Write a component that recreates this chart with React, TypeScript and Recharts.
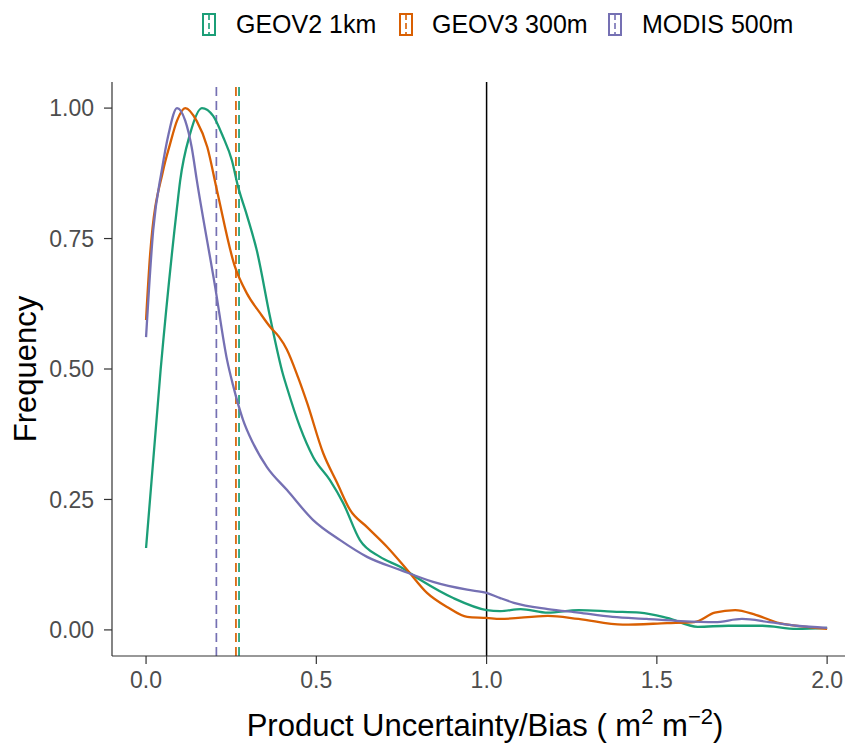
import { LineChart, Line, XAxis, YAxis, ReferenceLine } from 'recharts';

// Density curves (x = uncertainty/bias, y = scaled frequency)
const geov2 = [
  { x: 0, y: 0.157 }, { x: 0.043, y: 0.5 }, { x: 0.091, y: 0.81 }, { x: 0.1, y: 0.86 },
  { x: 0.129, y: 0.95 }, { x: 0.164, y: 1.0 }, { x: 0.197, y: 0.985 }, { x: 0.226, y: 0.945 },
  { x: 0.252, y: 0.9 }, { x: 0.27, y: 0.85 }, { x: 0.296, y: 0.795 }, { x: 0.326, y: 0.725 },
  { x: 0.364, y: 0.6 }, { x: 0.402, y: 0.49 }, { x: 0.413, y: 0.466 },
  { x: 0.452, y: 0.389 }, { x: 0.491, y: 0.331 }, { x: 0.54, y: 0.287 }, { x: 0.579, y: 0.243 },
  { x: 0.628, y: 0.172 }, { x: 0.687, y: 0.14 }, { x: 0.746, y: 0.121 }, { x: 0.805, y: 0.096 },
  { x: 0.902, y: 0.061 }, { x: 1.0, y: 0.038 }, { x: 1.04, y: 0.036 }, { x: 1.1, y: 0.04 },
  { x: 1.18, y: 0.033 }, { x: 1.27, y: 0.038 }, { x: 1.37, y: 0.035 }, { x: 1.45, y: 0.033 },
  { x: 1.53, y: 0.023 }, { x: 1.62, y: 0.006 }, { x: 1.71, y: 0.008 }, { x: 1.81, y: 0.008 },
  { x: 1.91, y: 0.002 }, { x: 2.0, y: 0.004 },
];

const geov3 = [
  { x: 0, y: 0.594 }, { x: 0.012, y: 0.72 }, { x: 0.05, y: 0.88 }, { x: 0.07, y: 0.93 },
  { x: 0.091, y: 0.976 }, { x: 0.115, y: 1.0 }, { x: 0.149, y: 0.975 }, { x: 0.18, y: 0.925 },
  { x: 0.208, y: 0.843 }, { x: 0.261, y: 0.696 }, { x: 0.296, y: 0.645 }, { x: 0.335, y: 0.607 },
  { x: 0.364, y: 0.581 }, { x: 0.39, y: 0.562 }, { x: 0.413, y: 0.538 }, { x: 0.447, y: 0.483 },
  { x: 0.473, y: 0.435 },
  { x: 0.52, y: 0.339 }, { x: 0.561, y: 0.282 }, { x: 0.599, y: 0.23 }, { x: 0.649, y: 0.197 },
  { x: 0.708, y: 0.159 }, { x: 0.767, y: 0.115 }, { x: 0.825, y: 0.071 }, { x: 0.884, y: 0.044 },
  { x: 0.943, y: 0.025 }, { x: 1.0, y: 0.023 }, { x: 1.04, y: 0.021 }, { x: 1.18, y: 0.027 },
  { x: 1.27, y: 0.021 }, { x: 1.4, y: 0.01 }, { x: 1.53, y: 0.013 }, { x: 1.61, y: 0.015 },
  { x: 1.67, y: 0.033 }, { x: 1.73, y: 0.038 }, { x: 1.79, y: 0.029 }, { x: 1.86, y: 0.013 },
  { x: 1.94, y: 0.006 }, { x: 2.0, y: 0.002 },
];

const modis = [
  { x: 0, y: 0.561 }, { x: 0.021, y: 0.766 }, { x: 0.046, y: 0.88 }, { x: 0.066, y: 0.95 },
  { x: 0.091, y: 1.0 }, { x: 0.115, y: 0.976 }, { x: 0.134, y: 0.925 }, { x: 0.149, y: 0.862 },
  { x: 0.203, y: 0.657 }, { x: 0.238, y: 0.517 }, { x: 0.255, y: 0.47 }, { x: 0.285, y: 0.402 },
  { x: 0.314, y: 0.358 }, { x: 0.355, y: 0.312 }, { x: 0.414, y: 0.268 }, { x: 0.49, y: 0.211 },
  { x: 0.57, y: 0.172 }, { x: 0.649, y: 0.14 }, { x: 0.746, y: 0.115 }, { x: 0.843, y: 0.092 },
  { x: 0.943, y: 0.077 }, { x: 1.0, y: 0.071 }, { x: 1.04, y: 0.061 }, { x: 1.08, y: 0.052 },
  { x: 1.18, y: 0.04 }, { x: 1.27, y: 0.033 }, { x: 1.37, y: 0.025 }, { x: 1.47, y: 0.021 },
  { x: 1.57, y: 0.017 }, { x: 1.67, y: 0.015 }, { x: 1.75, y: 0.021 }, { x: 1.83, y: 0.015 },
  { x: 1.91, y: 0.008 }, { x: 2.0, y: 0.004 },
];

// mean lines per product
const means = [0.273, 0.264, 0.2065];
const names = ['GEOV2 1km', 'GEOV3 300m', 'MODIS 500m'];
const colors = ['#1B9E77', '#D95F02', '#7570B3'];

const xTicks = [0, 0.5, 1, 1.5, 2];
const yTicks = [0, 0.25, 0.5, 0.75, 1];

const FONT = "'Liberation Sans', Arial, sans-serif";
const W = 845;
const H = 737;

const legendKeyX = [201, 398, 607];
const legendTextX = [228, 424, 634];

export default function App() {
  const series = [geov2, geov3, modis];
  return (
    <div style={{ position: 'relative', width: W, height: H, fontFamily: FONT }}>
      <LineChart width={W} height={H} margin={{ top: 74, right: 0, bottom: 0, left: 0 }}>
        <XAxis
          dataKey="x"
          type="number"
          domain={[-0.1, 2.076]}
          allowDataOverflow
          ticks={xTicks}
          tickFormatter={(v: number) => v.toFixed(1)}
          height={89}
          tickSize={8}
          tickMargin={8}
          stroke="#333333"
          strokeWidth={1.2}
          tick={{ fill: '#4D4D4D', fontSize: 23, fontFamily: FONT }}
        />
        <XAxis
          xAxisId="top"
          orientation="top"
          dataKey="x"
          type="number"
          domain={[-0.1, 2.076]}
          height={0}
          tick={false}
          tickLine={false}
          stroke="#333333"
          strokeWidth={1.2}
        />
        <YAxis
          type="number"
          domain={[-0.05, 1.05]}
          allowDataOverflow
          ticks={yTicks}
          tickFormatter={(v: number) => v.toFixed(2)}
          width={104}
          tickSize={8}
          tickMargin={10}
          stroke="#333333"
          strokeWidth={1.2}
          tick={{ fill: '#4D4D4D', fontSize: 23, fontFamily: FONT }}
        />
        {means.map((m, i) => (
          <ReferenceLine
            key={names[i]}
            x={m}
            stroke={colors[i]}
            strokeWidth={1.7}
            strokeDasharray="9 5"
          />
        ))}
        <ReferenceLine x={1} stroke="#000000" strokeWidth={1.5} />
        {series.map((d, i) => (
          <Line
            key={names[i]}
            data={d}
            dataKey="y"
            type="monotone"
            stroke={colors[i]}
            strokeWidth={2.3}
            dot={false}
            isAnimationActive={false}
          />
        ))}
      </LineChart>

      <svg
        width={W}
        height={H}
        style={{ position: 'absolute', left: 0, top: 0, pointerEvents: 'none' }}
      >
        {/* legend */}
        {names.map((n, i) => (
          <g key={n}>
            <rect
              x={legendKeyX[i] - 6}
              y={6}
              width={12}
              height={21}
              fill="none"
              stroke={colors[i]}
              strokeWidth={2}
            />
            <line
              x1={legendKeyX[i]}
              x2={legendKeyX[i]}
              y1={6}
              y2={27}
              stroke={colors[i]}
              strokeWidth={1.6}
              strokeDasharray="6 3"
            />
            <text x={legendTextX[i]} y={25} fontSize={25} fontFamily={FONT} fill="#000">
              {n}
            </text>
          </g>
        ))}
        {/* axis titles */}
        <text
          x={28}
          y={361}
          transform="rotate(-90, 28, 361)"
          textAnchor="middle"
          fontSize={31}
          fontFamily={FONT}
          fill="#000"
        >
          Frequency
        </text>
        <text x={477} y={728} textAnchor="middle" fontSize={31} fontFamily={FONT} fill="#000">
          Product Uncertainty/Bias ( m
          <tspan dy={-12} fontSize={22}>2</tspan>
          <tspan dy={12}> m</tspan>
          <tspan dy={-12} fontSize={22}>−2</tspan>
          <tspan dy={12}>)</tspan>
        </text>
      </svg>
    </div>
  );
}
